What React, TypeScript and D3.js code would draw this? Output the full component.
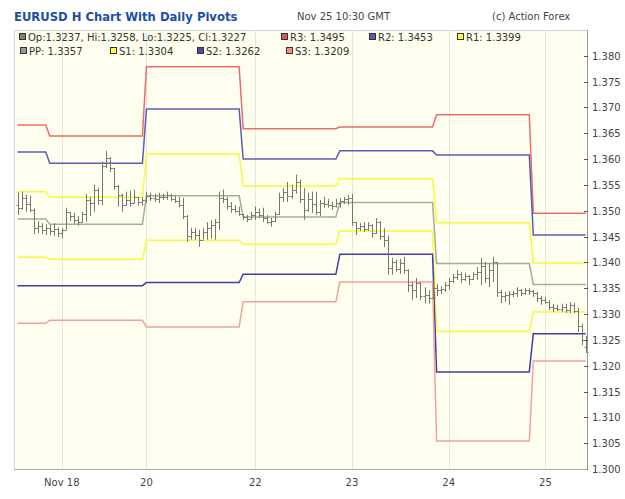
import React, { useEffect, useRef } from 'react';
import * as d3 from 'd3';

// hourly EURUSD bars, oldest first
const opens = [
  1.3511, 1.3506, 1.3524, 1.3514, 1.3502, 1.3467, 1.3471, 1.3463, 1.3467, 1.3461,
  1.3465, 1.3457, 1.3463, 1.3498, 1.3490, 1.3482, 1.3478, 1.3494, 1.3521, 1.3515,
  1.3541, 1.3521, 1.3587, 1.3602, 1.3583, 1.3548, 1.3531, 1.3511, 1.3521, 1.3515,
  1.3527, 1.3517, 1.3521, 1.3529, 1.3525, 1.3523, 1.3527, 1.3527, 1.3531, 1.3523,
  1.3519, 1.3511, 1.3490, 1.3451, 1.3459, 1.3453, 1.3444, 1.3459, 1.3467, 1.3473,
  1.3478, 1.3525, 1.3523, 1.3510, 1.3504, 1.3500, 1.3494, 1.3488, 1.3484, 1.3492,
  1.3498, 1.3492, 1.3486, 1.3478, 1.3480, 1.3494, 1.3527, 1.3537, 1.3529, 1.3541,
  1.3556, 1.3523, 1.3502, 1.3523, 1.3513, 1.3498, 1.3515, 1.3513, 1.3511, 1.3510,
  1.3515, 1.3519, 1.3523, 1.3525, 1.3478, 1.3467, 1.3471, 1.3465, 1.3473, 1.3457,
  1.3478, 1.3451, 1.3444, 1.3389, 1.3401, 1.3387, 1.3399, 1.3385, 1.3356, 1.3347,
  1.3360, 1.3335, 1.3337, 1.3331, 1.3350, 1.3347, 1.3348, 1.3356, 1.3364, 1.3372,
  1.3378, 1.3368, 1.3374, 1.3368, 1.3378, 1.3382, 1.3393, 1.3370, 1.3385, 1.3401,
  1.3343, 1.3335, 1.3337, 1.3339, 1.3341, 1.3347, 1.3341, 1.3347, 1.3345, 1.3341,
  1.3331, 1.3327, 1.3323, 1.3314, 1.3312, 1.3310, 1.3314, 1.3308, 1.3318, 1.3306,
  1.3277, 1.3237,
];
const highs = [
  1.3535, 1.3537, 1.3531, 1.3529, 1.3504, 1.3480, 1.3476, 1.3474, 1.3472, 1.3476,
  1.3468, 1.3466, 1.3506, 1.3498, 1.3496, 1.3490, 1.3498, 1.3533, 1.3527, 1.3550,
  1.3544, 1.3595, 1.3616, 1.3604, 1.3583, 1.3550, 1.3533, 1.3537, 1.3539, 1.3541,
  1.3527, 1.3527, 1.3537, 1.3535, 1.3533, 1.3535, 1.3533, 1.3537, 1.3533, 1.3529,
  1.3527, 1.3525, 1.3492, 1.3467, 1.3467, 1.3463, 1.3467, 1.3478, 1.3482, 1.3484,
  1.3537, 1.3541, 1.3527, 1.3517, 1.3511, 1.3508, 1.3494, 1.3492, 1.3498, 1.3508,
  1.3504, 1.3506, 1.3492, 1.3486, 1.3498, 1.3535, 1.3544, 1.3556, 1.3550, 1.3570,
  1.3560, 1.3544, 1.3535, 1.3537, 1.3537, 1.3521, 1.3527, 1.3523, 1.3517, 1.3523,
  1.3525, 1.3527, 1.3531, 1.3533, 1.3478, 1.3476, 1.3478, 1.3478, 1.3474, 1.3486,
  1.3480, 1.3466, 1.3452, 1.3409, 1.3405, 1.3407, 1.3411, 1.3387, 1.3362, 1.3370,
  1.3362, 1.3352, 1.3346, 1.3360, 1.3358, 1.3354, 1.3362, 1.3370, 1.3378, 1.3385,
  1.3381, 1.3380, 1.3376, 1.3381, 1.3391, 1.3409, 1.3401, 1.3399, 1.3411, 1.3401,
  1.3347, 1.3343, 1.3345, 1.3345, 1.3352, 1.3349, 1.3350, 1.3350, 1.3347, 1.3343,
  1.3335, 1.3333, 1.3327, 1.3320, 1.3318, 1.3320, 1.3320, 1.3323, 1.3321, 1.3312,
  1.3281, 1.3258,
];
const lows = [
  1.3492, 1.3502, 1.3498, 1.3498, 1.3455, 1.3457, 1.3455, 1.3453, 1.3453, 1.3451,
  1.3449, 1.3447, 1.3463, 1.3480, 1.3475, 1.3471, 1.3477, 1.3479, 1.3490, 1.3498,
  1.3511, 1.3511, 1.3583, 1.3575, 1.3541, 1.3508, 1.3498, 1.3510, 1.3508, 1.3513,
  1.3510, 1.3510, 1.3515, 1.3519, 1.3517, 1.3515, 1.3521, 1.3521, 1.3519, 1.3515,
  1.3507, 1.3484, 1.3440, 1.3444, 1.3444, 1.3430, 1.3444, 1.3444, 1.3446, 1.3444,
  1.3463, 1.3515, 1.3502, 1.3496, 1.3496, 1.3490, 1.3482, 1.3478, 1.3484, 1.3482,
  1.3486, 1.3478, 1.3475, 1.3469, 1.3478, 1.3492, 1.3517, 1.3517, 1.3523, 1.3533,
  1.3515, 1.3482, 1.3498, 1.3496, 1.3492, 1.3490, 1.3506, 1.3506, 1.3502, 1.3506,
  1.3506, 1.3513, 1.3511, 1.3471, 1.3453, 1.3461, 1.3459, 1.3461, 1.3448, 1.3455,
  1.3444, 1.3430, 1.3376, 1.3376, 1.3382, 1.3378, 1.3378, 1.3343, 1.3327, 1.3331,
  1.3327, 1.3321, 1.3320, 1.3331, 1.3335, 1.3339, 1.3343, 1.3347, 1.3360, 1.3366,
  1.3360, 1.3364, 1.3356, 1.3366, 1.3366, 1.3356, 1.3360, 1.3352, 1.3362, 1.3333,
  1.3321, 1.3323, 1.3318, 1.3333, 1.3333, 1.3335, 1.3337, 1.3337, 1.3333, 1.3323,
  1.3318, 1.3320, 1.3308, 1.3304, 1.3306, 1.3304, 1.3302, 1.3302, 1.3302, 1.3265,
  1.3240, 1.3225,
];
const closes = [
  1.3506, 1.3524, 1.3514, 1.3502, 1.3467, 1.3471, 1.3463, 1.3467, 1.3461, 1.3465,
  1.3457, 1.3463, 1.3498, 1.3490, 1.3482, 1.3478, 1.3494, 1.3521, 1.3515, 1.3541,
  1.3521, 1.3587, 1.3602, 1.3583, 1.3548, 1.3531, 1.3511, 1.3521, 1.3515, 1.3527,
  1.3517, 1.3521, 1.3529, 1.3525, 1.3523, 1.3527, 1.3527, 1.3531, 1.3523, 1.3519,
  1.3511, 1.3490, 1.3451, 1.3459, 1.3453, 1.3444, 1.3459, 1.3467, 1.3473, 1.3478,
  1.3525, 1.3523, 1.3510, 1.3504, 1.3500, 1.3494, 1.3488, 1.3484, 1.3492, 1.3498,
  1.3492, 1.3486, 1.3478, 1.3480, 1.3494, 1.3527, 1.3537, 1.3529, 1.3541, 1.3556,
  1.3523, 1.3502, 1.3523, 1.3513, 1.3498, 1.3515, 1.3513, 1.3511, 1.3510, 1.3515,
  1.3519, 1.3523, 1.3525, 1.3478, 1.3467, 1.3471, 1.3465, 1.3473, 1.3457, 1.3478,
  1.3451, 1.3444, 1.3389, 1.3401, 1.3387, 1.3399, 1.3385, 1.3356, 1.3347, 1.3360,
  1.3335, 1.3337, 1.3331, 1.3350, 1.3347, 1.3348, 1.3356, 1.3364, 1.3372, 1.3378,
  1.3368, 1.3374, 1.3368, 1.3378, 1.3382, 1.3393, 1.3370, 1.3385, 1.3401, 1.3343,
  1.3335, 1.3337, 1.3339, 1.3341, 1.3347, 1.3341, 1.3347, 1.3345, 1.3341, 1.3331,
  1.3327, 1.3323, 1.3314, 1.3312, 1.3310, 1.3314, 1.3308, 1.3318, 1.3306, 1.3277,
  1.3250, 1.3227,
];

// first bar of each trading day, and that day's pivot levels
const dayStarts = [0, 8, 32, 56, 80, 104, 128];
const pivotR3 = [1.3666, 1.3645, 1.3779, 1.3659, 1.3662, 1.3686, 1.3495];
const pivotR2 = [1.3614, 1.3592, 1.3697, 1.3600, 1.3616, 1.3608, 1.3453];
const pivotR1 = [1.3537, 1.3526, 1.3610, 1.3548, 1.3562, 1.3477, 1.3399];
const pivotPP = [1.3484, 1.3474, 1.3529, 1.3488, 1.3516, 1.3398, 1.3357];
const pivotS1 = [1.3410, 1.3406, 1.3443, 1.3435, 1.3461, 1.3266, 1.3304];
const pivotS2 = [1.3355, 1.3355, 1.3361, 1.3377, 1.3416, 1.3188, 1.3262];
const pivotS3 = [1.3282, 1.3288, 1.3275, 1.3324, 1.3362, 1.3054, 1.3209];

const xTickBars = [11, 32, 59, 83, 107, 131];
const xTickLabels = ['Nov 18', '20', '22', '23', '24', '25'];
const yTickValues = [
  1.300, 1.305, 1.310, 1.315, 1.320, 1.325, 1.330, 1.335, 1.340,
  1.345, 1.350, 1.355, 1.360, 1.365, 1.370, 1.375, 1.380,
];

const FONT = '"DejaVu Sans", Verdana, sans-serif';

const pivots = [
  { key: 'R3', values: pivotR3, color: '#ee6a68', box: '#e85050' },
  { key: 'R2', values: pivotR2, color: '#5c5cb6', box: '#5a5ab4' },
  { key: 'R1', values: pivotR1, color: '#f8f83c', box: '#ffff40' },
  { key: 'PP', values: pivotPP, color: '#a9a9a2', box: '#999999' },
  { key: 'S1', values: pivotS1, color: '#f8f83c', box: '#ffff40' },
  { key: 'S2', values: pivotS2, color: '#3e3ea8', box: '#4a4aa8' },
  { key: 'S3', values: pivotS3, color: '#f4a09a', box: '#f29088' },
];

export default function App() {
  const ref = useRef<SVGSVGElement>(null);

  useEffect(() => {
    const svg = d3.select(ref.current);
    svg.selectAll('*').remove();

    const plot = { left: 14, top: 30, right: 587, bottom: 469 };
    const n = closes.length;

    const x = d3.scaleLinear().domain([0, n - 1]).range([17.5, 585.7]);
    const y = d3.scaleLinear().domain([1.3, 1.385]).range([plot.bottom, plot.top]);
    const fmt = d3.format('.4f');

    // header
    svg.append('text')
      .attr('x', 14).attr('y', 21)
      .style('font-family', FONT).style('font-size', '11.6px').style('font-weight', 'bold')
      .attr('fill', '#1d4fa6')
      .text('EURUSD H Chart With Daily Pivots');
    svg.append('text')
      .attr('x', 297).attr('y', 20)
      .style('font-family', FONT).style('font-size', '10px')
      .attr('fill', '#444')
      .text('Nov 25 10:30 GMT');
    svg.append('text')
      .attr('x', 492).attr('y', 20)
      .style('font-family', FONT).style('font-size', '10px')
      .attr('fill', '#444')
      .text('(c) Action Forex');

    // plot background
    svg.append('rect')
      .attr('x', plot.left + 0.5).attr('y', plot.top + 0.5)
      .attr('width', plot.right - plot.left).attr('height', plot.bottom - plot.top)
      .attr('fill', '#fffff0').attr('stroke', '#d4d4cc');

    // vertical grid at the date ticks
    svg.append('g').selectAll('line').data(xTickBars).join('line')
      .attr('x1', d => Math.round(x(d)) + 0.5).attr('x2', d => Math.round(x(d)) + 0.5)
      .attr('y1', plot.top + 1).attr('y2', plot.bottom)
      .attr('stroke', '#e6e6e0');

    // pivot lines: one level per trading day
    const dayOf = (i: number) => d3.bisectRight(dayStarts, i) - 1;
    const line = d3.line<number>().x((_, i) => x(i)).y(d => y(d));
    pivots.forEach(p => {
      const perBar = closes.map((_, i) => p.values[dayOf(i)]);
      svg.append('path')
        .attr('d', line(perBar))
        .attr('fill', 'none')
        .attr('stroke', p.color)
        .attr('stroke-width', 1.5);
    });

    // OHLC bars
    const bars = svg.append('g').attr('stroke', '#767676').attr('stroke-width', 1);
    closes.forEach((c, i) => {
      const cx = Math.round(x(i)) + 0.5;
      bars.append('line').attr('x1', cx).attr('x2', cx).attr('y1', y(highs[i])).attr('y2', y(lows[i]));
      bars.append('line').attr('x1', cx - 2).attr('x2', cx).attr('y1', Math.round(y(opens[i])) + 0.5).attr('y2', Math.round(y(opens[i])) + 0.5);
      bars.append('line').attr('x1', cx).attr('x2', cx + 2).attr('y1', Math.round(y(c)) + 0.5).attr('y2', Math.round(y(c)) + 0.5);
    });

    // right price axis
    svg.append('line')
      .attr('x1', plot.right + 0.5).attr('x2', plot.right + 0.5)
      .attr('y1', plot.top).attr('y2', plot.bottom + 1)
      .attr('stroke', '#9a9a9a');
    const yAxis = svg.append('g');
    yAxis.selectAll('line').data(yTickValues).join('line')
      .attr('x1', plot.right - 3).attr('x2', plot.right + 1)
      .attr('y1', d => Math.round(y(d)) + 0.5).attr('y2', d => Math.round(y(d)) + 0.5)
      .attr('stroke', '#555');
    yAxis.selectAll('text').data(yTickValues).join('text')
      .attr('x', plot.right + 5).attr('y', d => y(d) + 4)
      .style('font-family', FONT).style('font-size', '10px')
      .attr('fill', '#444')
      .text(d => d3.format('.3f')(d));

    // bottom axis
    svg.append('line')
      .attr('x1', plot.left).attr('x2', plot.right)
      .attr('y1', plot.bottom + 0.5).attr('y2', plot.bottom + 0.5)
      .attr('stroke', '#a8a8a8');
    svg.append('g').selectAll('text').data(xTickBars).join('text')
      .attr('x', d => x(d)).attr('y', 486)
      .attr('text-anchor', 'middle')
      .style('font-family', FONT).style('font-size', '10px')
      .attr('fill', '#444')
      .text((_, i) => xTickLabels[i]);

    // legend: last bar and the current day's pivots
    const last = n - 1;
    const today = dayStarts.length - 1;
    const byKey = (k: string) => pivots.find(p => p.key === k)!;
    const legendItems = [
      { x: 19, row: 0, box: '#808080', text: `Op:${fmt(opens[last])}, Hi:${fmt(highs[last])}, Lo:${fmt(lows[last])}, Cl:${fmt(closes[last])}` },
      ...['R3', 'R2', 'R1'].map((k, j) => ({ x: [281, 369, 457][j], row: 0, box: byKey(k).box, text: `${k}: ${fmt(byKey(k).values[today])}` })),
      ...['PP', 'S1', 'S2', 'S3'].map((k, j) => ({ x: [20, 110, 197, 286][j], row: 1, box: byKey(k).box, text: `${k}: ${fmt(byKey(k).values[today])}` })),
    ];
    const legend = svg.append('g');
    legendItems.forEach(item => {
      const ty = 41 + item.row * 14;
      legend.append('rect')
        .attr('x', item.x + 0.5).attr('y', ty - 7.5)
        .attr('width', 6).attr('height', 6)
        .attr('fill', item.box).attr('stroke', '#333');
      legend.append('text')
        .attr('x', item.x + 9).attr('y', ty)
        .style('font-family', FONT).style('font-size', '10px')
        .attr('fill', '#333')
        .text(item.text);
    });
  }, []);

  return (
    <svg
      ref={ref}
      width={625}
      height={499}
      style={{ position: 'absolute', left: 0, top: 0, background: '#fff' }}
    />
  );
}
